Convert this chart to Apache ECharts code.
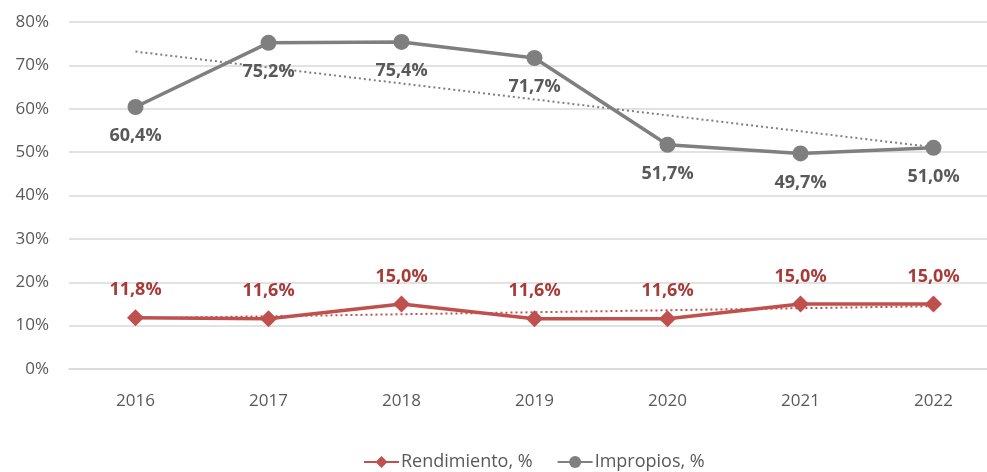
<!DOCTYPE html>
<html>
<head>
<meta charset="utf-8">
<script src="https://cdn.jsdelivr.net/npm/echarts@6/dist/echarts.min.js"></script>
<style>
  html, body { margin: 0; padding: 0; background: #fff; }
  #chart { width: 987px; height: 472px; }
</style>
</head>
<body>
<div id="chart"></div>
<script>
const years = ["2016", "2017", "2018", "2019", "2020", "2021", "2022"];
const rendimiento = [11.8, 11.6, 15.0, 11.6, 11.6, 15.0, 15.0];
const impropios = [60.4, 75.2, 75.4, 71.7, 51.7, 49.7, 51.0];
const yTicks = [0, 10, 20, 30, 40, 50, 60, 70, 80];

// linear trend (least squares), like the spreadsheet trendline
function trend(vals) {
  const n = vals.length;
  const mx = (n - 1) / 2;
  const my = vals.reduce((a, b) => a + b, 0) / n;
  let sxy = 0, sxx = 0;
  vals.forEach((v, i) => { sxy += (i - mx) * (v - my); sxx += (i - mx) * (i - mx); });
  const k = sxy / sxx;
  return vals.map((v, i) => +(my + k * (i - mx)).toFixed(3));
}

const fmt = v => v.toFixed(1).replace(".", ",") + "%";
const font = "'Open Sans', 'Noto Sans', sans-serif";

const chart = echarts.init(document.getElementById("chart"), null, { renderer: "canvas" });
chart.setOption({
  animation: false,
  grid: { left: 69, top: 22, width: 931, height: 347, containLabel: false, outerBoundsMode: "none" },
  legend: {
    bottom: -4,
    left: 358,
    itemWidth: 35,
    itemHeight: 15,
    itemGap: 24,
    data: ["Rendimiento, %", "Impropios, %"],
    textStyle: { color: "#595959", fontSize: 18, fontFamily: font, padding: [0, 0, 0, -3] }
  },
  xAxis: {
    type: "category",
    data: years,
    boundaryGap: true,
    axisLine: { show: true, lineStyle: { color: "#d9d9d9", width: 1.5 } },
    axisTick: { show: false },
    axisLabel: { color: "#595959", fontSize: 17, fontFamily: font, margin: 24 }
  },
  yAxis: {
    type: "value",
    min: yTicks[0],
    max: yTicks[yTicks.length - 1],
    interval: 10,
    axisLine: { show: false },
    axisTick: { show: false },
    splitLine: { lineStyle: { color: "#d9d9d9", width: 1.5 } },
    axisLabel: { color: "#595959", fontSize: 17, fontFamily: font, margin: 20, formatter: v => v + "%" }
  },
  series: [
    {
      name: "Rendimiento, %",
      type: "line",
      data: rendimiento,
      symbol: "diamond",
      symbolSize: 17,
      lineStyle: { color: "#c0504d", width: 3.5 },
      itemStyle: { color: "#c0504d" },
      label: {
        show: true, position: "top", distance: 10,
        color: "#a63c3a", fontSize: 18, fontWeight: "bold", fontFamily: font,
        formatter: p => fmt(p.value)
      },
      z: 3
    },
    {
      name: "Impropios, %",
      type: "line",
      data: impropios,
      symbol: "circle",
      symbolSize: 16,
      lineStyle: { color: "#7f7f7f", width: 3.5 },
      itemStyle: { color: "#7f7f7f" },
      label: {
        show: true, position: "bottom", distance: 12,
        color: "#595959", fontSize: 18, fontWeight: "bold", fontFamily: font,
        formatter: p => fmt(p.value)
      },
      z: 3
    },
    {
      name: "trend-r",
      type: "line",
      data: trend(rendimiento),
      symbol: "none",
      silent: true,
      lineStyle: { color: "#c0504d", width: 2, type: [2, 3] },
      z: 2
    },
    {
      name: "trend-i",
      type: "line",
      data: trend(impropios),
      symbol: "none",
      silent: true,
      lineStyle: { color: "#7f7f7f", width: 2, type: [2, 3] },
      z: 2
    }
  ]
});
window.addEventListener("resize", () => chart.resize());
</script>
</body>
</html>
